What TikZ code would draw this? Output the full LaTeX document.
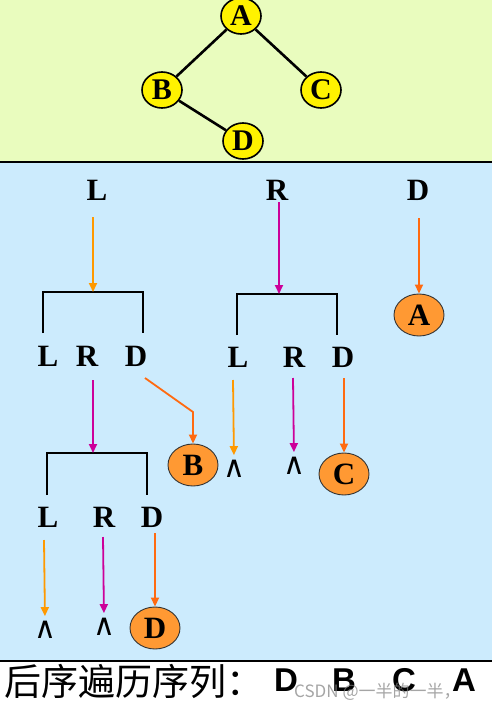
\documentclass[tikz,border=0pt]{standalone}
\usepackage{fontspec}
\setmainfont{Liberation Serif}
\newfontfamily\cjk{Noto Sans CJK SC}
\newfontfamily\symf{DejaVu Sans}
\newfontfamily\hei{Liberation Sans}
\usetikzlibrary{arrows.meta,shapes.geometric}
\definecolor{topc}{HTML}{E9FCBE}
\definecolor{bluec}{HTML}{CCEBFD}
\definecolor{orA}{HTML}{FF9900}
\definecolor{orB}{HTML}{FF6A10}
\definecolor{mag}{HTML}{CC0099}
\definecolor{ofill}{HTML}{FF9933}
\tikzset{
  lab/.style={font=\fontsize{31}{31}\selectfont\bfseries, inner sep=0pt},
  ynode/.style={ellipse, draw=black, line width=1.6pt, fill=yellow, minimum width=40pt, minimum height=36pt, inner sep=0pt, font=\fontsize{30}{30}\selectfont\bfseries},
  onode/.style={ellipse, draw=black!80, line width=0.9pt, fill=ofill, minimum width=50pt, minimum height=42pt, inner sep=0pt, font=\fontsize{31}{31}\selectfont\bfseries},
  treeedge/.style={line width=2.6pt},
  brk/.style={line width=2.3pt},
  arr/.style={line width=1.8pt, -{Triangle[width=8pt,length=9pt]}},
  nil/.style={font=\symf\fontsize{30}{30}\selectfont, inner sep=0pt},
  seq/.style={inner sep=0pt, font=\hei\bfseries\fontsize{33}{33}\selectfont},
}
\begin{document}
\begin{tikzpicture}[x=1pt,y=-1pt]
\useasboundingbox (0,0) rectangle (492,712);
\fill[topc] (0,0) rectangle (492,162);
\fill[bluec] (0,162) rectangle (492,661);
\fill[white] (0,661) rectangle (492,712);
\draw[line width=1.2pt] (0,162) -- (492,162);
\draw[line width=1.2pt] (0,661) -- (492,661);

% tree
\node[ynode] (A) at (241,16) {A};
\node[ynode] (B) at (162,90) {B};
\node[ynode] (C) at (321,90) {C};
\node[ynode] (D) at (243,141) {D};
\draw[treeedge] (A) -- (B);
\draw[treeedge] (A) -- (C);
\draw[treeedge] (B) -- (D);

% first row
\node[lab] (L1) at (97,190) {L};
\node[lab] (R1) at (277,190) {R};
\node[lab] (D1) at (418,190) {D};
\coordinate (L1s) at (93,217);
\coordinate (R1s) at (279,202);
\coordinate (D1s) at (419,218);
\coordinate (b1) at (93,292);
\coordinate (b2) at (279,294);
\draw[brk] (43,333) -- (43,292) -- (143,292) -- (143,333);
\draw[brk] (237,335) -- (237,294) -- (337,294) -- (337,335);
\draw[arr, orA] (L1s) -- (b1);
\draw[arr, mag] (R1s) -- (b2);
\node[onode] (nA) at (419,315) {A};
\draw[arr, orB] (D1s) -- (nA);

% second row left
\node[lab] (L2) at (48,356) {L};
\node[lab] (R2) at (87,356) {R};
\node[lab] (D2) at (136,356) {D};
\coordinate (R2s) at (93,380);
\coordinate (b3) at (93,453);
\draw[brk] (47,495) -- (47,453) -- (147,453) -- (147,495);
\draw[arr, mag] (R2s) -- (b3);
\node[onode] (nB) at (193,465) {B};
\coordinate (D2s) at (145,378);
\coordinate (D2k) at (193,412);
\draw[arr, orB] (D2s) -- (D2k) -- (nB);

% second row right
\node[lab] (L3) at (238,357) {L};
\node[lab] (R3) at (294,357) {R};
\node[lab] (D3) at (343,357) {D};
\coordinate (L3s) at (233,380);
\coordinate (R3s) at (293,378);
\coordinate (D3s) at (344,378);
\node[nil] (n1) at (234,469) {∧};
\node[nil] (n2) at (294,466) {∧};
\node[onode] (nC) at (344,474) {C};
\draw[arr, orA, shorten >=5pt] (L3s) -- (n1.north);
\draw[arr, mag, shorten >=5pt] (R3s) -- (n2.north);
\draw[arr, orB] (D3s) -- (nC);

% third row
\node[lab] (L4) at (48,517) {L};
\node[lab] (R4) at (104,517) {R};
\node[lab] (D4) at (152,517) {D};
\coordinate (L4s) at (44,540);
\coordinate (R4s) at (103,537);
\coordinate (D4s) at (155,533);
\node[nil] (n3) at (45,630) {∧};
\node[nil] (n4) at (104,627) {∧};
\node[onode] (nD) at (155,628) {D};
\draw[arr, orA, shorten >=5pt] (L4s) -- (n3.north);
\draw[arr, mag, shorten >=5pt] (R4s) -- (n4.north);
\draw[arr, orB] (D4s) -- (nD);

% bottom text
\node[anchor=west, inner sep=0pt, font=\cjk\fontsize{37}{37}\selectfont] (t) at (4,681) {后序遍历序列：};
\node[seq] (s1) at (286,680) {D};
\node[seq] (s2) at (344,680) {B};
\node[seq] (s3) at (404,680) {C};
\node[seq] (s4) at (464,680) {A};
\node[anchor=west, inner sep=0pt, text=gray, opacity=0.7, font=\cjk\fontsize{17}{17}\selectfont] (wm) at (294,692) {CSDN @一半的一半，};
\end{tikzpicture}
\end{document}
